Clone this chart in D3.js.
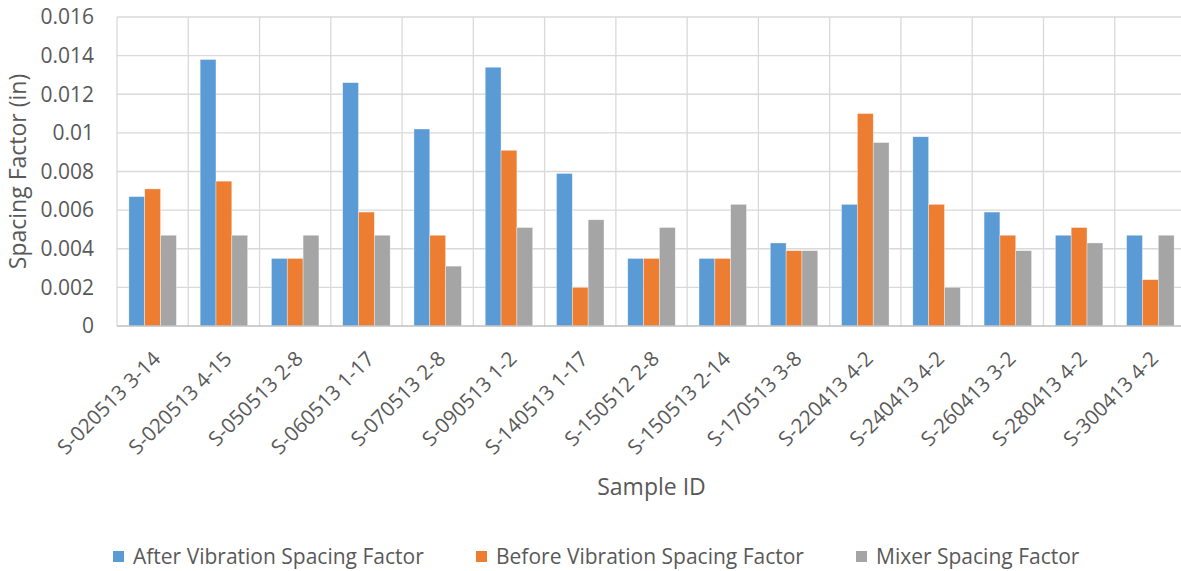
<!DOCTYPE html>
<html>
<head>
<meta charset="utf-8">
<script src="https://cdn.jsdelivr.net/npm/d3@7"></script>
<style>
  body { margin: 0; background: #fff; }
  svg { display: block; font-family: "Open Sans", sans-serif; }
</style>
</head>
<body>
<svg id="chart"></svg>
<script>
// data
const samples = ["S-020513 3-14", "S-020513 4-15", "S-050513 2-8", "S-060513 1-17", "S-070513 2-8",
  "S-090513 1-2", "S-140513 1-17", "S-150512 2-8", "S-150513 2-14", "S-170513 3-8",
  "S-220413 4-2", "S-240413 4-2", "S-260413 3-2", "S-280413 4-2", "S-300413 4-2"];
const afterVib  = [0.0067, 0.0138, 0.0035, 0.0126, 0.0102, 0.0134, 0.0079, 0.0035, 0.0035, 0.0043, 0.0063, 0.0098, 0.0059, 0.0047, 0.0047];
const beforeVib = [0.0071, 0.0075, 0.0035, 0.0059, 0.0047, 0.0091, 0.0020, 0.0035, 0.0035, 0.0039, 0.0110, 0.0063, 0.0047, 0.0051, 0.0024];
const mixer     = [0.0047, 0.0047, 0.0047, 0.0047, 0.0031, 0.0051, 0.0055, 0.0051, 0.0063, 0.0039, 0.0095, 0.0020, 0.0039, 0.0043, 0.0047];
const seriesNames = ["After Vibration Spacing Factor", "Before Vibration Spacing Factor", "Mixer Spacing Factor"];
const colors = ["#5B9BD5", "#ED7D31", "#A5A5A5"];
const yTicks = [0, 0.002, 0.004, 0.006, 0.008, 0.01, 0.012, 0.014, 0.016];

const width = 1181, height = 571;
// plot runs a bit past the right edge, like the cropped original
const plot = { left: 117, top: 17, right: 1186, bottom: 326 };
const textColor = "#595959";

const svg = d3.select("#chart").attr("width", width).attr("height", height);

const x0 = d3.scaleBand().domain(samples)
  .range([plot.left, plot.right])
  .paddingInner(1.5 / 4.5).paddingOuter(0.75 / 4.5);
const x1 = d3.scaleBand().domain(d3.range(3)).range([0, x0.bandwidth()]);
const y = d3.scaleLinear().domain([0, 0.016]).range([plot.bottom, plot.top]);

const rows = samples.map((s, i) => ({ s, vals: [afterVib[i], beforeVib[i], mixer[i]] }));

// grid
const grid = svg.append("g");
grid.selectAll("line.h").data(yTicks.slice(1)).join("line")
  .attr("x1", plot.left).attr("x2", plot.right)
  .attr("y1", d => y(d)).attr("y2", d => y(d))
  .attr("stroke", "#d9d9d9").attr("stroke-width", 1.3);
const step = x0.step();
const gx = i => x0(samples[0]) - x0.paddingOuter() * step + i * step;
grid.selectAll("line.v").data(d3.range(samples.length + 1)).join("line")
  .attr("x1", gx).attr("x2", gx)
  .attr("y1", plot.top).attr("y2", plot.bottom)
  .attr("stroke", "#d9d9d9").attr("stroke-width", 1.3);

// bars
svg.append("g").selectAll("g").data(rows).join("g")
  .attr("transform", d => `translate(${x0(d.s)},0)`)
  .selectAll("rect").data(d => d.vals).join("rect")
  .attr("x", (v, j) => x1(j))
  .attr("width", x1.bandwidth())
  .attr("y", v => y(v))
  .attr("height", v => y(0) - y(v))
  .attr("fill", (v, j) => colors[j])
  .attr("stroke", "#fff").attr("stroke-width", 0.6).attr("stroke-opacity", 0.6);

// x axis line
svg.append("line")
  .attr("x1", plot.left).attr("x2", plot.right)
  .attr("y1", y(0)).attr("y2", y(0))
  .attr("stroke", "#bfbfbf").attr("stroke-width", 1.3);

// y tick labels
svg.append("g").selectAll("text").data(yTicks).join("text")
  .attr("x", plot.left - 23).attr("y", d => y(d))
  .attr("dy", "0.35em")
  .attr("text-anchor", "end")
  .attr("fill", textColor).attr("font-size", 21)
  .text(d => d === 0 ? "0" : String(+d.toFixed(3)));

// x tick labels, rotated
svg.append("g").selectAll("text").data(samples).join("text")
  .attr("transform", d => `translate(${x0(d) + x0.bandwidth() / 2 + 4},${plot.bottom + 29}) rotate(-45)`)
  .attr("text-anchor", "end")
  .attr("dy", "0.35em")
  .attr("fill", textColor).attr("font-size", 20.5)
  .text(d => d);

// axis titles
svg.append("text")
  .attr("x", (plot.left + plot.right) / 2).attr("y", 495)
  .attr("text-anchor", "middle")
  .attr("fill", textColor).attr("font-size", 23)
  .text("Sample ID");
svg.append("text")
  .attr("transform", `translate(18,${(plot.top + plot.bottom) / 2}) rotate(-90)`)
  .attr("dy", "0.35em").attr("text-anchor", "middle")
  .attr("fill", textColor).attr("font-size", 23)
  .text("Spacing Factor (in)");

// legend
const legendX = [113, 476, 856];
const legend = svg.append("g").selectAll("g").data(seriesNames).join("g")
  .attr("transform", (d, i) => `translate(${legendX[i]},557)`);
legend.append("rect").attr("x", 0).attr("y", -6).attr("width", 11).attr("height", 11)
  .attr("fill", (d, i) => colors[i]);
legend.append("text").attr("x", 20).attr("dy", "0.35em")
  .attr("fill", textColor).attr("font-size", 21)
  .text(d => d);
</script>
</body>
</html>
